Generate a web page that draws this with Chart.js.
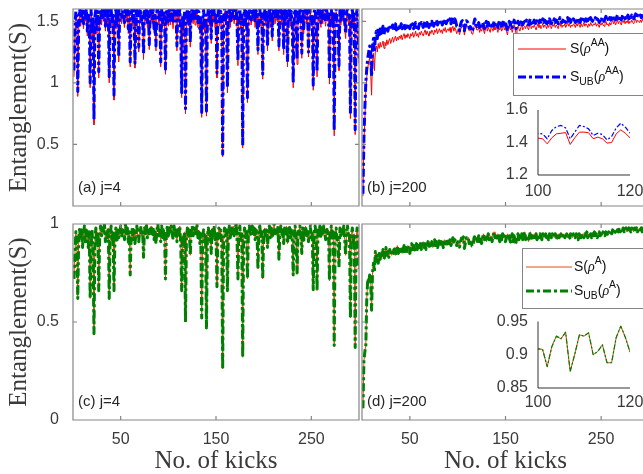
<!DOCTYPE html>
<html><head><meta charset="utf-8">
<script src="https://cdn.jsdelivr.net/npm/chart.js@4.4.1/dist/chart.umd.min.js"></script>
<style>
html,body{margin:0;padding:0;background:#fff;overflow:hidden;width:643px;height:474px;}
#wrap{position:relative;width:670px;height:474px;}
canvas{position:absolute;}
</style></head><body><div id="wrap">
<canvas id="cA" width="361" height="215" style="left:0px;top:0px"></canvas>
<canvas id="cB" width="300" height="215" style="left:361px;top:0px"></canvas>
<canvas id="cC" width="361" height="259" style="left:0px;top:215px"></canvas>
<canvas id="cD" width="300" height="259" style="left:361px;top:215px"></canvas>
<canvas id="iB" width="160" height="105" style="left:490px;top:100px"></canvas>
<canvas id="iD" width="160" height="105" style="left:490px;top:310px"></canvas>
</div>
<script>
// ---------- tick values ----------
const kickTicks = [50, 150, 250];
const yTicksTop = [0.5, 1, 1.5];
const yTicksBottom = [0, 0.5, 1];
const insetXTicks = [100, 120];
const insetAAYTicks = [1.2, 1.4, 1.6];
const insetAYTicks = [0.85, 0.9, 0.95];
const panelLabels = ['(a) j=4', '(b) j=200', '(c) j=4', '(d) j=200'];
const legendAA = [[['S'], ['('], ['ρ', 'it'], ['AA', 'sup'], [')']],
                  [['S'], ['UB', 'sub'], ['('], ['ρ', 'it'], ['AA', 'sup'], [')']]];
const legendA = [[['S'], ['('], ['ρ', 'it'], ['A', 'sup'], [')']],
                 [['S'], ['UB', 'sub'], ['('], ['ρ', 'it'], ['A', 'sup'], [')']]];

// ---------- series (kick 1..300) ----------
const sAA_j4 = [
1.05,1.40,1.55,1.50,0.89,1.45,1.57,1.46,1.52,1.58,
1.44,1.55,1.50,1.59,1.38,1.52,1.48,0.96,1.57,1.35,
1.50,0.66,1.50,1.58,1.40,1.55,1.04,1.52,1.59,1.47,
1.57,1.50,1.60,1.42,1.56,1.48,1.58,1.00,1.55,1.59,
1.45,1.52,0.86,1.50,1.58,1.44,1.56,1.17,1.53,1.59,
1.48,1.57,1.52,1.45,1.60,1.50,1.58,1.40,1.55,1.13,
1.52,1.58,1.46,1.56,1.12,1.50,1.59,1.44,1.25,1.55,
1.58,1.47,1.53,1.19,1.57,1.50,1.60,1.45,1.56,1.27,
1.55,1.59,1.48,1.57,1.40,1.52,1.26,1.56,1.60,1.47,
1.54,1.13,1.58,1.45,1.56,1.50,1.07,1.55,1.59,1.46,
1.57,1.47,1.58,1.52,1.44,1.59,1.50,1.55,1.26,1.57,
1.49,1.58,1.38,0.88,1.52,1.45,1.55,0.75,1.50,1.58,
1.46,1.56,1.29,1.54,1.59,1.48,1.57,1.47,1.52,1.60,
1.45,1.55,1.40,1.50,0.72,1.48,1.56,1.42,1.52,0.73,
1.50,1.58,1.46,1.55,1.32,1.57,1.49,1.59,1.45,1.52,
1.04,1.50,1.58,1.46,1.55,1.42,0.40,1.50,1.58,1.47,
1.56,0.92,1.52,1.59,1.45,1.57,1.50,1.58,1.48,1.55,
1.60,1.47,1.14,1.54,1.58,1.44,1.52,0.47,1.50,1.58,
1.46,1.55,0.84,1.52,1.59,1.48,1.47,1.57,1.50,1.58,
1.45,1.56,1.52,1.23,1.55,1.59,1.46,1.53,1.03,1.50,
1.58,1.47,1.56,1.26,1.52,1.59,1.45,1.57,1.34,1.55,
1.60,1.48,1.56,1.50,1.58,1.26,1.52,1.59,1.47,1.55,
1.23,1.57,1.50,1.58,1.13,1.53,1.59,1.46,1.55,1.45,
0.96,1.52,1.58,1.47,1.15,1.56,1.50,1.59,1.46,1.20,
1.57,1.40,1.55,1.59,1.48,1.56,1.21,1.52,1.58,1.46,
1.50,0.94,1.55,1.59,1.47,1.05,1.56,1.50,1.58,1.45,
1.57,1.48,1.59,1.52,1.46,1.57,1.50,1.55,0.99,1.52,
1.58,1.45,1.55,0.57,1.50,1.58,1.46,1.46,1.10,1.59,
1.47,1.56,1.50,1.58,1.45,1.36,1.55,1.59,1.48,1.52,
0.71,1.50,1.57,1.45,1.53,0.58,1.50,1.57,1.46,1.16];
const subAA_j4 = [
1.10,1.45,1.58,1.54,0.93,1.49,1.60,1.50,1.55,1.60,
1.48,1.58,1.54,1.60,1.42,1.55,1.52,1.00,1.60,1.40,
1.54,0.70,1.54,1.60,1.44,1.58,1.09,1.55,1.60,1.51,
1.60,1.54,1.60,1.46,1.59,1.52,1.60,1.05,1.58,1.60,
1.49,1.55,0.90,1.54,1.60,1.48,1.59,1.21,1.56,1.60,
1.52,1.60,1.55,1.49,1.60,1.54,1.60,1.44,1.58,1.17,
1.55,1.60,1.50,1.59,1.16,1.54,1.60,1.48,1.29,1.58,
1.60,1.51,1.56,1.23,1.60,1.54,1.60,1.49,1.59,1.31,
1.58,1.60,1.52,1.60,1.44,1.55,1.30,1.59,1.60,1.51,
1.57,1.17,1.60,1.49,1.59,1.54,1.11,1.58,1.60,1.50,
1.60,1.51,1.60,1.55,1.48,1.60,1.54,1.58,1.30,1.60,
1.53,1.60,1.42,0.92,1.55,1.49,1.58,0.79,1.54,1.60,
1.50,1.59,1.33,1.57,1.60,1.52,1.60,1.51,1.55,1.60,
1.49,1.58,1.44,1.54,0.76,1.52,1.59,1.46,1.55,0.77,
1.54,1.60,1.50,1.58,1.36,1.60,1.53,1.60,1.49,1.55,
1.08,1.54,1.60,1.50,1.58,1.46,0.42,1.54,1.60,1.51,
1.59,0.96,1.55,1.60,1.49,1.60,1.54,1.60,1.52,1.58,
1.60,1.51,1.18,1.57,1.60,1.48,1.55,0.49,1.54,1.60,
1.50,1.58,0.88,1.55,1.60,1.52,1.51,1.60,1.54,1.60,
1.49,1.59,1.55,1.27,1.58,1.60,1.50,1.56,1.07,1.54,
1.60,1.51,1.59,1.30,1.55,1.60,1.49,1.60,1.38,1.58,
1.60,1.52,1.59,1.54,1.60,1.30,1.55,1.60,1.51,1.58,
1.27,1.60,1.54,1.60,1.17,1.56,1.60,1.50,1.58,1.49,
1.00,1.55,1.60,1.51,1.19,1.59,1.54,1.60,1.50,1.24,
1.60,1.44,1.58,1.60,1.52,1.59,1.25,1.55,1.60,1.50,
1.54,0.98,1.58,1.60,1.51,1.09,1.59,1.54,1.60,1.49,
1.60,1.52,1.60,1.55,1.50,1.60,1.54,1.58,1.03,1.55,
1.60,1.49,1.58,0.61,1.54,1.60,1.50,1.50,1.14,1.60,
1.51,1.59,1.54,1.60,1.49,1.40,1.58,1.60,1.52,1.55,
0.75,1.54,1.60,1.49,1.56,0.62,1.54,1.60,1.50,1.20];
const sAA_j200 = [
0.08,0.52,0.71,0.93,1.05,1.12,1.17,1.20,1.10,0.90,
1.18,1.24,1.10,1.27,1.30,1.25,1.32,1.28,1.33,1.29,
1.31,1.34,1.28,1.33,1.30,1.35,1.31,1.34,1.36,1.32,
1.35,1.37,1.33,1.36,1.38,1.34,1.37,1.35,1.38,1.36,
1.39,1.35,1.38,1.40,1.36,1.39,1.37,1.40,1.38,1.36,
1.40,1.38,1.41,1.37,1.39,1.42,1.38,1.40,1.37,1.41,
1.39,1.42,1.40,1.38,1.41,1.43,1.39,1.42,1.40,1.38,
1.42,1.40,1.43,1.41,1.39,1.43,1.41,1.44,1.40,1.42,
1.44,1.41,1.43,1.40,1.44,1.42,1.45,1.41,1.43,1.44,
1.42,1.45,1.41,1.44,1.46,1.42,1.45,1.43,1.40,1.427,
1.423,1.392,1.429,1.453,1.457,1.461,1.388,1.429,1.464,1.464,
1.46,1.423,1.433,1.423,1.396,1.40,1.453,1.478,1.457,1.429,
1.43,1.45,1.41,1.44,1.42,1.45,1.43,1.40,1.44,1.46,
1.42,1.45,1.43,1.41,1.45,1.44,1.42,1.46,1.43,1.45,
1.44,1.41,1.45,1.43,1.46,1.42,1.44,1.47,1.43,1.45,
1.42,1.39,1.44,1.46,1.43,1.45,1.41,1.44,1.47,1.44,
1.40,1.43,1.46,1.44,1.42,1.45,1.47,1.43,1.45,1.46,
1.44,1.47,1.45,1.43,1.46,1.48,1.44,1.46,1.45,1.47,
1.45,1.43,1.46,1.48,1.45,1.47,1.44,1.46,1.48,1.45,
1.47,1.46,1.44,1.47,1.45,1.48,1.46,1.44,1.47,1.46,
1.48,1.45,1.47,1.46,1.44,1.47,1.49,1.46,1.45,1.47,
1.46,1.48,1.45,1.47,1.49,1.46,1.48,1.45,1.47,1.46,
1.48,1.47,1.45,1.48,1.46,1.49,1.47,1.45,1.48,1.46,
1.47,1.49,1.46,1.48,1.47,1.45,1.48,1.46,1.49,1.47,
1.46,1.48,1.47,1.49,1.46,1.48,1.47,1.45,1.48,1.47,
1.49,1.47,1.46,1.48,1.50,1.47,1.48,1.46,1.49,1.47,
1.49,1.51,1.48,1.50,1.47,1.49,1.51,1.48,1.50,1.49,
1.47,1.50,1.49,1.51,1.48,1.50,1.49,1.51,1.48,1.50,
1.49,1.51,1.49,1.48,1.50,1.52,1.49,1.51,1.50,1.49,
1.51,1.49,1.52,1.50,1.49,1.51,1.53,1.50,1.51,1.52];
const subAA_j200 = [
0.10,0.55,0.80,1.00,1.12,1.20,1.25,1.30,1.28,1.05,
1.30,1.36,1.25,1.38,1.42,1.36,1.44,1.39,1.45,1.40,
1.43,1.46,1.39,1.44,1.41,1.46,1.42,1.45,1.47,1.43,
1.45,1.47,1.42,1.46,1.48,1.43,1.46,1.44,1.47,1.45,
1.48,1.44,1.46,1.48,1.44,1.47,1.45,1.48,1.46,1.44,
1.47,1.45,1.48,1.44,1.46,1.49,1.45,1.47,1.44,1.48,
1.46,1.49,1.47,1.45,1.48,1.50,1.46,1.49,1.47,1.45,
1.49,1.47,1.50,1.48,1.46,1.50,1.48,1.51,1.47,1.49,
1.51,1.48,1.50,1.47,1.51,1.49,1.52,1.48,1.50,1.51,
1.49,1.52,1.48,1.51,1.53,1.49,1.52,1.50,1.46,1.457,
1.453,1.423,1.474,1.498,1.505,1.49,1.423,1.464,1.505,1.498,
1.484,1.443,1.457,1.449,1.416,1.437,1.49,1.519,1.494,1.457,
1.47,1.49,1.45,1.48,1.46,1.49,1.47,1.44,1.48,1.50,
1.46,1.49,1.47,1.45,1.49,1.48,1.46,1.50,1.47,1.49,
1.48,1.45,1.49,1.47,1.50,1.46,1.48,1.51,1.47,1.49,
1.46,1.42,1.48,1.50,1.47,1.49,1.45,1.48,1.51,1.48,
1.44,1.47,1.50,1.48,1.46,1.49,1.51,1.47,1.49,1.50,
1.48,1.51,1.49,1.47,1.50,1.52,1.48,1.50,1.49,1.51,
1.49,1.47,1.50,1.52,1.49,1.51,1.48,1.50,1.52,1.49,
1.51,1.50,1.48,1.51,1.49,1.52,1.50,1.48,1.51,1.50,
1.52,1.49,1.51,1.50,1.48,1.51,1.53,1.50,1.49,1.51,
1.50,1.52,1.49,1.51,1.53,1.50,1.52,1.49,1.51,1.50,
1.52,1.51,1.49,1.52,1.50,1.53,1.51,1.49,1.52,1.50,
1.51,1.53,1.50,1.52,1.51,1.49,1.52,1.50,1.53,1.51,
1.50,1.52,1.51,1.53,1.50,1.52,1.51,1.49,1.52,1.51,
1.53,1.51,1.50,1.52,1.54,1.51,1.52,1.50,1.53,1.51,
1.53,1.55,1.52,1.54,1.51,1.53,1.55,1.52,1.54,1.53,
1.51,1.54,1.53,1.55,1.52,1.54,1.53,1.55,1.52,1.54,
1.53,1.55,1.53,1.52,1.54,1.56,1.53,1.55,1.54,1.53,
1.55,1.53,1.56,1.54,1.53,1.55,1.57,1.54,1.55,1.56];
const sA_j4 = [
0.72,0.85,0.96,0.90,0.62,0.93,0.98,0.92,0.97,0.88,
0.95,0.99,0.91,0.97,0.93,0.88,0.96,0.62,0.90,0.97,
0.85,0.44,0.92,0.98,0.90,0.96,0.66,0.93,0.99,0.94,
0.98,0.95,1.00,0.91,0.97,0.93,0.98,0.62,0.94,0.99,
0.92,0.96,0.66,0.93,0.98,0.91,0.97,0.93,0.95,0.99,
0.94,0.98,0.96,0.92,1.00,0.95,0.98,0.90,0.96,0.74,
0.94,0.98,0.92,0.97,0.90,0.95,0.99,0.93,0.91,0.97,
0.99,0.94,0.96,0.83,0.98,0.95,1.00,0.93,0.97,0.95,
0.97,0.99,0.94,0.98,0.92,0.96,0.90,0.97,1.00,0.94,
0.97,0.91,0.99,0.93,0.97,0.95,0.72,0.96,0.99,0.93,
0.98,0.96,0.99,0.95,0.92,0.99,0.95,0.97,0.91,0.98,
0.94,0.99,0.90,0.66,0.94,0.91,0.96,0.50,0.93,0.98,
0.93,0.97,0.84,0.96,0.99,0.94,0.98,0.95,0.97,1.00,
0.93,0.97,0.90,0.95,0.52,0.94,0.97,0.91,0.95,0.47,
0.94,0.98,0.92,0.96,0.85,0.98,0.94,0.99,0.92,0.95,
0.68,0.94,0.98,0.93,0.97,0.90,0.26,0.93,0.98,0.94,
0.97,0.66,0.95,0.99,0.93,0.98,0.95,0.99,0.94,0.97,
1.00,0.94,0.72,0.96,0.99,0.92,0.95,0.32,0.93,0.98,
0.93,0.96,0.72,0.95,0.99,0.94,0.96,0.99,0.95,0.98,
0.92,0.97,0.95,0.77,0.97,0.99,0.93,0.96,0.72,0.94,
0.98,0.94,0.97,0.88,0.95,0.99,0.93,0.98,0.93,0.97,
1.00,0.95,0.97,0.94,0.99,0.82,0.95,0.99,0.94,0.97,
0.90,0.98,0.95,0.99,0.90,0.96,0.99,0.93,0.97,0.92,
0.74,0.95,0.99,0.94,0.75,0.97,0.95,0.99,0.93,0.85,
0.98,0.91,0.96,0.99,0.94,0.97,0.91,0.95,0.99,0.93,
0.95,0.665,0.96,0.99,0.94,0.66,0.97,0.95,0.99,0.93,
0.98,0.94,0.99,0.96,0.92,0.98,0.95,0.97,0.71,0.95,
0.99,0.92,0.96,0.38,0.94,0.98,0.93,0.90,0.78,0.98,
0.94,0.97,0.95,0.99,0.92,0.84,0.96,0.99,0.94,0.95,
0.52,0.94,0.98,0.91,0.95,0.37,0.93,0.98,0.92,0.77];
const subA_j4 = [
0.72,0.85,0.96,0.90,0.62,0.93,0.98,0.92,0.97,0.88,
0.95,0.99,0.91,0.97,0.93,0.88,0.96,0.62,0.90,0.97,
0.85,0.44,0.92,0.98,0.90,0.96,0.66,0.93,0.99,0.94,
0.98,0.95,1.00,0.91,0.97,0.93,0.98,0.62,0.94,0.99,
0.92,0.96,0.66,0.93,0.98,0.91,0.97,0.93,0.95,0.99,
0.94,0.98,0.96,0.92,1.00,0.95,0.98,0.90,0.96,0.74,
0.94,0.98,0.92,0.97,0.90,0.95,0.99,0.93,0.91,0.97,
0.99,0.94,0.96,0.83,0.98,0.95,1.00,0.93,0.97,0.95,
0.97,0.99,0.94,0.98,0.92,0.96,0.90,0.97,1.00,0.94,
0.97,0.91,0.99,0.93,0.97,0.95,0.72,0.96,0.99,0.93,
0.98,0.96,0.99,0.95,0.92,0.99,0.95,0.97,0.91,0.98,
0.94,0.99,0.90,0.66,0.94,0.91,0.96,0.50,0.93,0.98,
0.93,0.97,0.84,0.96,0.99,0.94,0.98,0.95,0.97,1.00,
0.93,0.97,0.90,0.95,0.52,0.94,0.97,0.91,0.95,0.47,
0.94,0.98,0.92,0.96,0.85,0.98,0.94,0.99,0.92,0.95,
0.68,0.94,0.98,0.93,0.97,0.90,0.26,0.93,0.98,0.94,
0.97,0.66,0.95,0.99,0.93,0.98,0.95,0.99,0.94,0.97,
1.00,0.94,0.72,0.96,0.99,0.92,0.95,0.32,0.93,0.98,
0.93,0.96,0.72,0.95,0.99,0.94,0.96,0.99,0.95,0.98,
0.92,0.97,0.95,0.77,0.97,0.99,0.93,0.96,0.72,0.94,
0.98,0.94,0.97,0.88,0.95,0.99,0.93,0.98,0.93,0.97,
1.00,0.95,0.97,0.94,0.99,0.82,0.95,0.99,0.94,0.97,
0.90,0.98,0.95,0.99,0.90,0.96,0.99,0.93,0.97,0.92,
0.74,0.95,0.99,0.94,0.75,0.97,0.95,0.99,0.93,0.85,
0.98,0.91,0.96,0.99,0.94,0.97,0.91,0.95,0.99,0.93,
0.95,0.665,0.96,0.99,0.94,0.66,0.97,0.95,0.99,0.93,
0.98,0.94,0.99,0.96,0.92,0.98,0.95,0.97,0.71,0.95,
0.99,0.92,0.96,0.38,0.94,0.98,0.93,0.90,0.78,0.98,
0.94,0.97,0.95,0.99,0.92,0.84,0.96,0.99,0.94,0.95,
0.52,0.94,0.98,0.91,0.95,0.37,0.93,0.98,0.92,0.77];
const sA_j200 = [
0.06,0.30,0.35,0.38,0.62,0.72,0.70,0.74,0.72,0.56,
0.75,0.80,0.76,0.86,0.81,0.84,0.80,0.85,0.82,0.86,
0.83,0.87,0.82,0.85,0.88,0.84,0.86,0.83,0.87,0.85,
0.84,0.87,0.85,0.88,0.84,0.86,0.89,0.85,0.87,0.86,
0.88,0.85,0.87,0.89,0.86,0.88,0.86,0.89,0.87,0.85,
0.88,0.90,0.87,0.89,0.86,0.88,0.90,0.87,0.89,0.88,
0.90,0.87,0.89,0.91,0.88,0.90,0.87,0.89,0.91,0.88,
0.90,0.89,0.91,0.88,0.90,0.92,0.89,0.91,0.88,0.90,
0.92,0.89,0.91,0.90,0.88,0.92,0.90,0.91,0.89,0.92,
0.90,0.92,0.89,0.91,0.93,0.90,0.92,0.91,0.89,0.909,
0.908,0.882,0.912,0.928,0.924,0.934,0.875,0.901,0.930,0.928,
0.933,0.900,0.905,0.915,0.888,0.888,0.926,0.943,0.926,0.904,
0.92,0.94,0.91,0.93,0.90,0.93,0.95,0.92,0.94,0.91,
0.93,0.95,0.92,0.94,0.93,0.91,0.94,0.96,0.93,0.94,
0.92,0.95,0.93,0.91,0.94,0.92,0.95,0.93,0.94,0.91,
0.93,0.95,0.92,0.94,0.90,0.93,0.95,0.91,0.94,0.92,
0.90,0.93,0.95,0.92,0.94,0.93,0.95,0.92,0.94,0.96,
0.92,0.94,0.93,0.91,0.94,0.96,0.92,0.94,0.93,0.95,
0.93,0.95,0.92,0.94,0.93,0.95,0.94,0.92,0.95,0.93,
0.94,0.95,0.93,0.94,0.92,0.95,0.94,0.93,0.95,0.94,
0.93,0.95,0.94,0.92,0.95,0.93,0.94,0.95,0.93,0.94,
0.95,0.93,0.94,0.95,0.93,0.94,0.92,0.95,0.94,0.93,
0.95,0.94,0.93,0.95,0.94,0.92,0.95,0.94,0.93,0.95,
0.94,0.93,0.95,0.94,0.96,0.93,0.95,0.94,0.95,0.93,
0.95,0.94,0.96,0.94,0.95,0.93,0.95,0.96,0.94,0.95,
0.94,0.96,0.95,0.94,0.96,0.95,0.94,0.96,0.95,0.96,
0.95,0.97,0.96,0.97,0.95,0.96,0.97,0.96,0.98,0.96,
0.97,0.96,0.98,0.96,0.97,0.98,0.96,0.97,0.98,0.97,
0.96,0.98,0.97,0.96,0.98,0.97,0.98,0.96,0.97,0.98,
0.97,0.98,0.96,0.98,0.97,0.98,0.99,0.97,0.98,0.97];
const subA_j200 = [
0.06,0.30,0.35,0.38,0.62,0.72,0.70,0.74,0.72,0.56,
0.75,0.80,0.76,0.86,0.81,0.84,0.80,0.85,0.82,0.86,
0.83,0.87,0.82,0.85,0.88,0.84,0.86,0.83,0.87,0.85,
0.84,0.87,0.85,0.88,0.84,0.86,0.89,0.85,0.87,0.86,
0.88,0.85,0.87,0.89,0.86,0.88,0.86,0.89,0.87,0.85,
0.88,0.90,0.87,0.89,0.86,0.88,0.90,0.87,0.89,0.88,
0.90,0.87,0.89,0.91,0.88,0.90,0.87,0.89,0.91,0.88,
0.90,0.89,0.91,0.88,0.90,0.92,0.89,0.91,0.88,0.90,
0.92,0.89,0.91,0.90,0.88,0.92,0.90,0.91,0.89,0.92,
0.90,0.92,0.89,0.91,0.93,0.90,0.92,0.91,0.89,0.909,
0.908,0.882,0.912,0.928,0.924,0.934,0.875,0.901,0.930,0.928,
0.933,0.900,0.905,0.915,0.888,0.888,0.926,0.943,0.926,0.904,
0.92,0.94,0.91,0.93,0.90,0.93,0.95,0.92,0.94,0.91,
0.93,0.95,0.92,0.94,0.93,0.91,0.94,0.96,0.93,0.94,
0.92,0.95,0.93,0.91,0.94,0.92,0.95,0.93,0.94,0.91,
0.93,0.95,0.92,0.94,0.90,0.93,0.95,0.91,0.94,0.92,
0.90,0.93,0.95,0.92,0.94,0.93,0.95,0.92,0.94,0.96,
0.92,0.94,0.93,0.91,0.94,0.96,0.92,0.94,0.93,0.95,
0.93,0.95,0.92,0.94,0.93,0.95,0.94,0.92,0.95,0.93,
0.94,0.95,0.93,0.94,0.92,0.95,0.94,0.93,0.95,0.94,
0.93,0.95,0.94,0.92,0.95,0.93,0.94,0.95,0.93,0.94,
0.95,0.93,0.94,0.95,0.93,0.94,0.92,0.95,0.94,0.93,
0.95,0.94,0.93,0.95,0.94,0.92,0.95,0.94,0.93,0.95,
0.94,0.93,0.95,0.94,0.96,0.93,0.95,0.94,0.95,0.93,
0.95,0.94,0.96,0.94,0.95,0.93,0.95,0.96,0.94,0.95,
0.94,0.96,0.95,0.94,0.96,0.95,0.94,0.96,0.95,0.96,
0.95,0.97,0.96,0.97,0.95,0.96,0.97,0.96,0.98,0.96,
0.97,0.96,0.98,0.96,0.97,0.98,0.96,0.97,0.98,0.97,
0.96,0.98,0.97,0.96,0.98,0.97,0.98,0.96,0.97,0.98,
0.97,0.98,0.96,0.98,0.97,0.98,0.99,0.97,0.98,0.97];

// ---------- styles ----------
const AX = '#858585', TXT = '#3a3a3a';
const RED = '#ff0000', BLUE = '#0000ff', ORANGE = '#d95319', GREEN = '#008000';
const DASHDOT = [8, 3, 3, 3], DASHDOT_S = [5, 2, 2, 2];
const SANS = "'Liberation Sans', Arial, Helvetica, sans-serif";
const SERIF = "'Liberation Serif', 'Times New Roman', serif";
Chart.defaults.font.family = SANS;
Chart.defaults.color = TXT;

const pts = arr => arr.map((v, i) => ({x: i + 1, y: v}));

function rich(ctx, x, y, parts, size) {
  ctx.textBaseline = 'middle'; ctx.textAlign = 'left';
  parts.forEach(p => {
    const t = p[0], k = p[1] || '';
    let fs = size, dy = 0, fam = SANS, st = '';
    if (k === 'sup') { fs = size * 0.74; dy = -size * 0.4; }
    if (k === 'sub') { fs = size * 0.74; dy = size * 0.4; }
    if (k === 'it') { fam = SERIF; st = 'italic '; }
    ctx.font = st + fs + 'px ' + fam;
    ctx.fillText(t, x, y + dy);
    x += ctx.measureText(t).width;
  });
}

const framePlugin = {
  id: 'frame',
  afterDatasetsDraw(chart, args, o) {
    const {ctx, chartArea: a} = chart;
    const xs = chart.scales.x, ys = chart.scales.y;
    ctx.save();
    ctx.strokeStyle = o.color; ctx.lineWidth = o.lw;
    ctx.beginPath();
    if (o.box) ctx.rect(a.left, a.top, a.right - a.left, a.bottom - a.top);
    else { ctx.moveTo(a.left, a.top); ctx.lineTo(a.left, a.bottom); ctx.lineTo(a.right, a.bottom); }
    const L = o.len;
    (o.xt || []).forEach(v => {
      const px = xs.getPixelForValue(v);
      ctx.moveTo(px, a.bottom); ctx.lineTo(px, a.bottom - L);
      if (o.box) { ctx.moveTo(px, a.top); ctx.lineTo(px, a.top + L); }
    });
    (o.yt || []).forEach(v => {
      const py = ys.getPixelForValue(v);
      ctx.moveTo(a.left, py); ctx.lineTo(a.left + L, py);
      if (o.box) { ctx.moveTo(a.right, py); ctx.lineTo(a.right - L, py); }
    });
    ctx.stroke();
    ctx.restore();
  }
};

const annotPlugin = {
  id: 'annot',
  afterDraw(chart, args, o) {
    const {ctx, chartArea: a} = chart;
    ctx.save();
    if (o.label) {
      ctx.font = '15px ' + SANS; ctx.fillStyle = '#262626';
      ctx.textBaseline = 'middle'; ctx.textAlign = 'left';
      ctx.fillText(o.label, a.left + o.lx, a.bottom - o.ly);
    }
    if (o.legend) {
      const g = o.legend, bx = a.left + g.x, by = a.top + g.y;
      ctx.fillStyle = '#fff'; ctx.fillRect(bx, by, g.w, g.h);
      ctx.strokeStyle = AX; ctx.lineWidth = 1; ctx.strokeRect(bx + 0.5, by + 0.5, g.w, g.h);
      g.rows.forEach((r, i) => {
        const ds = chart.data.datasets[i];
        const yy = by + r;
        ctx.beginPath(); ctx.setLineDash(ds.borderDash || []);
        ctx.strokeStyle = ds.borderColor; ctx.lineWidth = ds.borderWidth;
        ctx.moveTo(bx + g.l0, yy); ctx.lineTo(bx + g.l1, yy); ctx.stroke();
        ctx.setLineDash([]);
        ctx.fillStyle = '#111';
        rich(ctx, bx + g.tx, yy, g.texts[i], 14);
      });
    }
    ctx.restore();
  }
};

function axis(o) {
  const s = {
    type: 'linear', min: o.min, max: o.max, display: o.show,
    grid: {display: false, drawTicks: false}, border: {display: false},
    ticks: {padding: o.pad || 0, callback: v => String(v), font: {size: 16, family: SANS}, color: TXT, maxRotation: 0, autoSkip: false},
    afterBuildTicks: sc => { sc.ticks = o.ticks.map(v => ({value: v})); },
    afterFit: sc => {
      if (o.w !== undefined) sc.width = o.w;
      if (o.h !== undefined) sc.height = o.h;
      sc.paddingTop = 0; sc.paddingBottom = 0; sc.paddingLeft = 0; sc.paddingRight = 0;
    }
  };
  if (o.title) s.title = {display: true, text: o.title, color: TXT,
    font: {family: SERIF, size: 25, lineHeight: o.tlh || 1.2}, padding: o.tpad};
  return s;
}

function ds(label, arr, color, width, dash, order) {
  return {label, data: pts(arr), borderColor: color, borderWidth: width, borderDash: dash,
    pointRadius: 0, tension: 0, fill: false, order, borderJoinStyle: 'round', borderCapStyle: 'butt'};
}

function make(id, datasets, scales, pad, frame, annot) {
  return new Chart(document.getElementById(id), {
    type: 'line',
    data: {datasets},
    options: {responsive: false, animation: false, events: [],
      layout: {padding: pad}, scales,
      plugins: {legend: {display: false}, tooltip: {enabled: false}, frame, annot: annot || {}}},
    plugins: [framePlugin, annotPlugin]
  });
}

const frameTop = {box: true, xt: kickTicks, yt: yTicksTop, len: 4, color: AX, lw: 1.2};
const frameBot = {box: true, xt: kickTicks, yt: yTicksBottom, len: 4, color: AX, lw: 1.2};

// (a)
make('cA',
  [ds('S(ρ^AA)', sAA_j4, RED, 1, [], 1), ds('S_UB(ρ^AA)', subAA_j4, BLUE, 3, DASHDOT, 0)],
  {x: axis({min: 0, max: 300, show: false, ticks: kickTicks}),
   y: axis({min: 0, max: 1.6, show: true, ticks: yTicksTop, w: 73, pad: 14,
            title: 'Entanglement(S)', tpad: {top: 4, bottom: 0}})},
  {top: 9, right: 2, bottom: 9, left: 0}, frameTop, {label: panelLabels[0], lx: 5, ly: 18});

// (b)
make('cB',
  [ds('S(ρ^AA)', sAA_j200, RED, 1, [], 1), ds('S_UB(ρ^AA)', subAA_j200, BLUE, 3, DASHDOT, 0)],
  {x: axis({min: 0, max: 300, show: false, ticks: kickTicks}),
   y: axis({min: 0, max: 1.6, show: false, ticks: yTicksTop})},
  {top: 9, right: 12, bottom: 9, left: 1}, frameTop,
  {label: panelLabels[1], lx: 5, ly: 18,
   legend: {x: 151, y: 24, w: 150, h: 62, rows: [16, 44], l0: 5, l1: 53, tx: 57, texts: legendAA}});

// (c)
make('cC',
  [ds('S(ρ^A)', sA_j4, ORANGE, 1, [], 1), ds('S_UB(ρ^A)', subA_j4, GREEN, 3, DASHDOT, 0)],
  {x: axis({min: 0, max: 300, show: true, ticks: kickTicks, h: 54, pad: 10,
            title: 'No. of kicks', tlh: 1.0, tpad: {top: 0, bottom: 0}}),
   y: axis({min: 0, max: 1, show: true, ticks: yTicksBottom, w: 73, pad: 14,
            title: 'Entanglement(S)', tpad: {top: 4, bottom: 0}})},
  {top: 9, right: 2, bottom: 0, left: 0}, frameBot, {label: panelLabels[2], lx: 5, ly: 18});

// (d)
make('cD',
  [ds('S(ρ^A)', sA_j200, ORANGE, 1, [], 1), ds('S_UB(ρ^A)', subA_j200, GREEN, 3, DASHDOT, 0)],
  {x: axis({min: 0, max: 300, show: true, ticks: kickTicks, h: 54, pad: 10,
            title: 'No. of kicks', tlh: 1.0, tpad: {top: 0, bottom: 0}}),
   y: axis({min: 0, max: 1, show: false, ticks: yTicksBottom})},
  {top: 9, right: 12, bottom: 0, left: 1}, frameBot,
  {label: panelLabels[3], lx: 5, ly: 18,
   legend: {x: 160, y: 24, w: 150, h: 60, rows: [19, 43], l0: 4, l1: 50, tx: 52, texts: legendA}});

// inset (b)
make('iB',
  [ds('S(ρ^AA)', sAA_j200, RED, 1, [], 1), ds('S_UB(ρ^AA)', subAA_j200, BLUE, 1.2, DASHDOT_S, 0)],
  {x: axis({min: 100, max: 120, show: true, ticks: insetXTicks, h: 30, pad: 7}),
   y: axis({min: 1.2, max: 1.6, show: true, ticks: insetAAYTicks, w: 48, pad: 10})},
  {top: 10, right: 20, bottom: 0, left: 0}, {box: false, len: 0, color: '#333', lw: 1});

// inset (d)
make('iD',
  [ds('S(ρ^A)', sA_j200, ORANGE, 1, [], 1), ds('S_UB(ρ^A)', subA_j200, GREEN, 1.2, DASHDOT_S, 0)],
  {x: axis({min: 100, max: 120, show: true, ticks: insetXTicks, h: 27, pad: 5}),
   y: axis({min: 0.85, max: 0.95, show: true, ticks: insetAYTicks, w: 48, pad: 10})},
  {top: 11.5, right: 20, bottom: 0, left: 0}, {box: false, len: 0, color: '#333', lw: 1});
</script></body></html>
